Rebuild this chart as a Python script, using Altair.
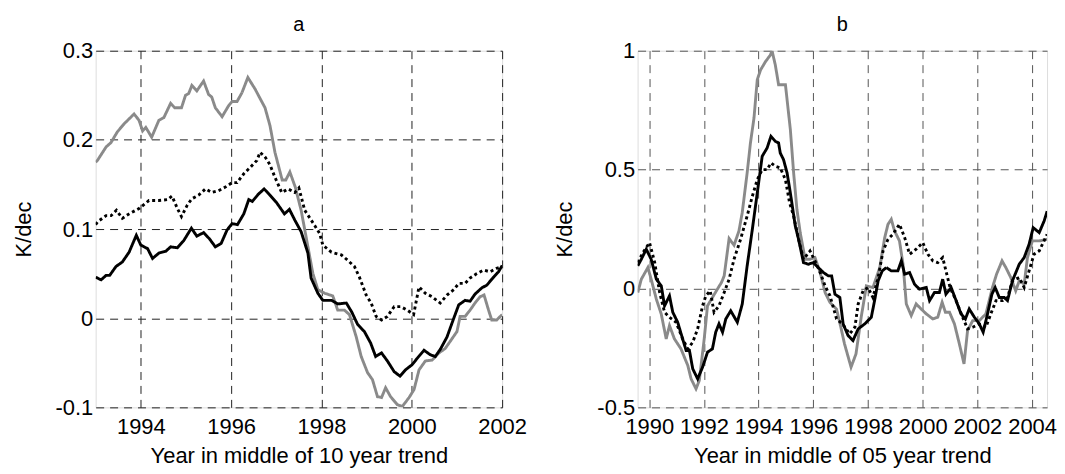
import altair as alt
import pandas as pd

# ---------- panel a (10-year trends) ----------
a_gray_x = [1993.0, 1993.04, 1993.23, 1993.34, 1993.48, 1993.63, 1993.85, 1993.96, 1994.04, 1994.11, 1994.24,
            1994.40, 1994.51, 1994.66, 1994.75, 1994.90, 1994.99, 1995.06, 1995.13, 1995.24, 1995.39, 1995.50,
            1995.57, 1995.65, 1995.80, 1995.94, 1996.02, 1996.13, 1996.24, 1996.37, 1996.53, 1996.75, 1996.86,
            1996.97, 1997.13, 1997.21, 1997.30, 1997.42, 1997.55, 1997.66, 1997.81, 1997.92, 1998.07, 1998.25,
            1998.36, 1998.51, 1998.62, 1998.77, 1998.88, 1999.02, 1999.13, 1999.24, 1999.33, 1999.42, 1999.53,
            1999.68, 1999.79, 1999.94, 2000.05, 2000.16, 2000.30, 2000.45, 2000.60, 2000.74, 2000.85, 2001.00,
            2001.07, 2001.18, 2001.29, 2001.40, 2001.51, 2001.60, 2001.70, 2001.77, 2001.88, 2002.0]
a_gray_y = [0.175, 0.177, 0.192, 0.197, 0.209, 0.218, 0.229, 0.222, 0.210, 0.214, 0.203,
            0.222, 0.225, 0.241, 0.236, 0.236, 0.250, 0.252, 0.261, 0.255, 0.266, 0.251,
            0.248, 0.236, 0.226, 0.238, 0.243, 0.243, 0.253, 0.270, 0.257, 0.236, 0.216,
            0.186, 0.155, 0.155, 0.164, 0.147, 0.121, 0.091, 0.050, 0.032, 0.028, 0.025,
            0.009, 0.009, 0.004, -0.021, -0.043, -0.061, -0.069, -0.088, -0.089, -0.078, -0.088,
            -0.097, -0.099, -0.089, -0.080, -0.058, -0.048, -0.047, -0.039, -0.034, -0.026, -0.015,
            0.002, 0.002, 0.009, 0.017, 0.024, 0.026, 0.009, -0.002, -0.002, 0.004]

a_black_x = [1993.0, 1993.04, 1993.12, 1993.23, 1993.31, 1993.45, 1993.59, 1993.74, 1993.90, 1994.0, 1994.15,
             1994.26, 1994.40, 1994.55, 1994.66, 1994.81, 1994.95, 1995.12, 1995.24, 1995.39, 1995.52, 1995.65,
             1995.78, 1995.91, 1996.02, 1996.14, 1996.28, 1996.39, 1996.47, 1996.60, 1996.73, 1996.86, 1997.0,
             1997.18, 1997.29, 1997.41, 1997.55, 1997.70, 1997.77, 1997.92, 1998.03, 1998.22, 1998.36, 1998.55,
             1998.67, 1998.80, 1998.95, 1999.09, 1999.20, 1999.33, 1999.46, 1999.61, 1999.74, 1999.86, 2000.01,
             2000.12, 2000.27, 2000.41, 2000.52, 2000.63, 2000.78, 2000.93, 2001.04, 2001.18, 2001.29, 2001.40,
             2001.55, 2001.66, 2001.81, 2001.92, 2002.0]
a_black_y = [0.046, 0.045, 0.043, 0.048, 0.048, 0.058, 0.063, 0.074, 0.093, 0.082, 0.078,
             0.067, 0.073, 0.075, 0.080, 0.079, 0.087, 0.101, 0.092, 0.096, 0.089, 0.080,
             0.084, 0.099, 0.106, 0.105, 0.117, 0.133, 0.131, 0.139, 0.145, 0.138, 0.130,
             0.117, 0.122, 0.110, 0.097, 0.073, 0.045, 0.028, 0.020, 0.020, 0.016, 0.017,
             0.007, -0.007, -0.015, -0.028, -0.043, -0.039, -0.048, -0.060, -0.065, -0.058, -0.052,
             -0.045, -0.036, -0.041, -0.043, -0.035, -0.021, 0.000, 0.015, 0.020, 0.019, 0.027,
             0.034, 0.037, 0.046, 0.052, 0.059]

a_dot_x = [1993.0, 1993.04, 1993.23, 1993.34, 1993.46, 1993.59, 1993.74, 1993.96, 1994.18, 1994.40, 1994.59,
           1994.69, 1994.81, 1994.90, 1995.03, 1995.13, 1995.28, 1995.43, 1995.57, 1995.72, 1995.87, 1996.02,
           1996.13, 1996.28, 1996.42, 1996.57, 1996.64, 1996.75, 1996.86, 1996.97, 1997.12, 1997.26, 1997.41,
           1997.50, 1997.63, 1997.85, 1997.96, 1998.03, 1998.22, 1998.44, 1998.58, 1998.73, 1998.84, 1998.99,
           1999.10, 1999.21, 1999.33, 1999.46, 1999.61, 1999.75, 1999.90, 2000.04, 2000.16, 2000.30, 2000.45,
           2000.63, 2000.78, 2000.93, 2001.04, 2001.18, 2001.29, 2001.44, 2001.59, 2001.73, 2001.88, 2002.0]
a_dot_y = [0.105, 0.108, 0.115, 0.115, 0.121, 0.112, 0.117, 0.123, 0.132, 0.132, 0.133,
           0.137, 0.123, 0.114, 0.127, 0.134, 0.138, 0.145, 0.141, 0.143, 0.147, 0.152,
           0.152, 0.162, 0.169, 0.177, 0.186, 0.181, 0.172, 0.158, 0.141, 0.145, 0.141,
           0.146, 0.121, 0.104, 0.095, 0.082, 0.074, 0.071, 0.065, 0.058, 0.046, 0.026,
           0.017, 0.002, -0.002, 0.002, 0.013, 0.013, 0.009, 0.004, 0.035, 0.028, 0.024,
           0.017, 0.026, 0.032, 0.039, 0.039, 0.045, 0.050, 0.054, 0.052, 0.056, 0.058]

# ---------- panel b (5-year trends) ----------
b_gray_x = [1989.58, 1989.71, 1989.95, 1990.07, 1990.26, 1990.44, 1990.62, 1990.74, 1990.92, 1991.16, 1991.41,
            1991.53, 1991.71, 1991.83, 1992.01, 1992.13, 1992.31, 1992.49, 1992.64, 1992.74, 1992.92, 1993.10,
            1993.28, 1993.40, 1993.58, 1993.70, 1993.83, 1993.95, 1994.07, 1994.25, 1994.43, 1994.49, 1994.61,
            1994.73, 1994.98, 1995.16, 1995.28, 1995.40, 1995.52, 1995.70, 1995.88, 1996.06, 1996.25, 1996.43,
            1996.61, 1996.85, 1997.00, 1997.14, 1997.38, 1997.56, 1997.75, 1997.94, 1998.18, 1998.43, 1998.61,
            1998.73, 1998.85, 1998.97, 1999.15, 1999.28, 1999.40, 1999.58, 1999.76, 1999.94, 2000.13, 2000.37,
            2000.55, 2000.71, 2000.83, 2000.98, 2001.16, 2001.34, 2001.51, 2001.64, 2001.83, 2002.07, 2002.31,
            2002.55, 2002.70, 2002.90, 2003.04, 2003.22, 2003.40, 2003.53, 2003.71, 2003.83, 2004.01, 2004.26,
            2004.55]
b_gray_y = [-0.017, 0.039, 0.088, 0.039, -0.045, -0.108, -0.212, -0.156, -0.212, -0.254, -0.324,
            -0.380, -0.422, -0.387, -0.212, -0.073, -0.038, -0.003, 0.025, 0.053, 0.210, 0.182,
            0.242, 0.319, 0.486, 0.612, 0.717, 0.878, 0.919, 0.954, 0.982, 1.0, 0.940,
            0.857, 0.857, 0.668, 0.486, 0.333, 0.235, 0.123, 0.123, 0.130, 0.067, -0.017,
            -0.059, -0.087, -0.160, -0.233, -0.331, -0.275, -0.121, 0.011, 0.004, 0.088, 0.214,
            0.270, 0.291, 0.242, 0.200, 0.102, -0.065, -0.114, -0.065, -0.086, -0.107, -0.128,
            -0.121, -0.058, -0.100, -0.100, -0.149, -0.233, -0.317, -0.177, -0.135, -0.135, -0.107,
            0.004, 0.060, 0.116, 0.088, 0.046, -0.010, 0.032, 0.018, 0.130, 0.200, 0.200,
            0.207]

b_black_x = [1989.58, 1989.71, 1989.89, 1990.07, 1990.26, 1990.44, 1990.56, 1990.74, 1990.86, 1991.04, 1991.22,
             1991.35, 1991.47, 1991.59, 1991.77, 1991.95, 1992.13, 1992.31, 1992.43, 1992.55, 1992.68, 1992.80,
             1992.98, 1993.22, 1993.40, 1993.58, 1993.77, 1993.95, 1994.13, 1994.31, 1994.45, 1994.61, 1994.73,
             1994.79, 1994.91, 1995.04, 1995.16, 1995.34, 1995.46, 1995.64, 1995.82, 1996.00, 1996.18, 1996.37,
             1996.55, 1996.67, 1996.79, 1996.97, 1997.09, 1997.27, 1997.45, 1997.64, 1997.88, 1998.12, 1998.24,
             1998.37, 1998.52, 1998.67, 1998.85, 1999.09, 1999.22, 1999.34, 1999.52, 1999.70, 1999.88, 2000.13,
             2000.25, 2000.43, 2000.61, 2000.73, 2000.85, 2001.04, 2001.22, 2001.40, 2001.56, 2001.70, 2001.89,
             2002.07, 2002.21, 2002.37, 2002.53, 2002.65, 2002.80, 2002.98, 2003.10, 2003.28, 2003.53, 2003.71,
             2003.89, 2004.04, 2004.26, 2004.44, 2004.55]
b_black_y = [0.095, 0.123, 0.165, 0.123, 0.039, 0.011, -0.073, -0.031, -0.100, -0.142, -0.212,
             -0.261, -0.261, -0.338, -0.380, -0.331, -0.268, -0.254, -0.184, -0.149, -0.184, -0.128,
             -0.094, -0.142, -0.066, 0.095, 0.249, 0.402, 0.556, 0.591, 0.640, 0.619, 0.612,
             0.570, 0.542, 0.486, 0.402, 0.263, 0.207, 0.109, 0.102, 0.109, 0.088, 0.067,
             0.053, 0.053, -0.024, -0.038, -0.149, -0.198, -0.219, -0.170, -0.149, -0.121, -0.051,
             0.032, 0.074, 0.088, 0.074, 0.074, 0.116, 0.060, 0.067, 0.018, -0.003, 0.004,
             -0.051, -0.017, -0.017, 0.039, -0.024, 0.004, -0.051, -0.107, -0.128, -0.086, -0.121,
             -0.149, -0.184, -0.107, -0.024, 0.004, -0.038, -0.038, -0.051, 0.032, 0.102, 0.130,
             0.186, 0.256, 0.235, 0.284, 0.325]

b_dot_x = [1989.58, 1989.77, 1990.01, 1990.20, 1990.38, 1990.56, 1990.74, 1990.98, 1991.22, 1991.41, 1991.59,
           1991.77, 1991.95, 1992.07, 1992.23, 1992.37, 1992.55, 1992.74, 1992.92, 1993.10, 1993.34, 1993.58,
           1993.77, 1993.95, 1994.13, 1994.31, 1994.45, 1994.61, 1994.79, 1994.98, 1995.13, 1995.28, 1995.46,
           1995.64, 1995.88, 1996.06, 1996.25, 1996.43, 1996.61, 1996.85, 1997.07, 1997.33, 1997.52, 1997.64,
           1997.82, 1998.00, 1998.18, 1998.37, 1998.55, 1998.73, 1998.91, 1999.15, 1999.34, 1999.52, 1999.76,
           2000.00, 2000.19, 2000.37, 2000.55, 2000.73, 2000.85, 2001.00, 2001.22, 2001.46, 2001.64, 2001.83,
           2002.07, 2002.31, 2002.49, 2002.68, 2002.92, 2003.10, 2003.28, 2003.53, 2003.71, 2003.89, 2004.07,
           2004.26, 2004.55]
b_dot_y = [0.109, 0.151, 0.193, 0.109, -0.017, -0.100, -0.121, -0.142, -0.212, -0.254, -0.226,
           -0.170, -0.073, -0.031, -0.010, -0.100, -0.073, -0.017, 0.039, 0.123, 0.207, 0.305,
           0.388, 0.458, 0.500, 0.500, 0.528, 0.514, 0.507, 0.458, 0.361, 0.305, 0.207,
           0.123, 0.158, 0.116, 0.067, 0.011, -0.031, -0.128, -0.150, -0.191, -0.163, -0.065,
           -0.010, 0.004, -0.038, 0.046, 0.158, 0.207, 0.228, 0.270, 0.214, 0.144, 0.165,
           0.193, 0.144, 0.116, 0.109, 0.130, 0.074, 0.004, -0.051, -0.121, -0.170, -0.163,
           -0.149, -0.163, -0.107, -0.051, -0.051, -0.038, 0.032, 0.046, 0.004, 0.074, 0.144,
           0.158, 0.228]

a_xticks = [1994, 1996, 1998, 2000, 2002]
a_yticks = [-0.1, 0, 0.1, 0.2, 0.3]
b_xticks = [1990, 1992, 1994, 1996, 1998, 2000, 2002, 2004]
b_yticks = [-0.5, 0, 0.5, 1]

FONT = "Liberation Sans"
GRAY = "#8a8a8a"


def series_df(x, y):
    return pd.DataFrame({"year": x, "val": y})


def panel(title, series, xdom, ydom, xticks, yticks, xtitle, gridcolor, width):
    xs = alt.X("year:Q", scale=alt.Scale(domain=xdom, nice=False, zero=False),
               axis=alt.Axis(values=xticks, labelExpr="'' + datum.value", title=xtitle,
                             grid=True, gridColor=gridcolor, gridDash=[8, 6], gridWidth=1, gridOpacity=1,
                             domain=False, ticks=False, labelFontSize=22, labelFont=FONT,
                             labelColor="black", titleFontSize=22, titleFont=FONT, titleFontWeight="normal",
                             titleColor="black", labelPadding=9, titlePadding=8, labelFlush=False))
    ys = alt.Y("val:Q", scale=alt.Scale(domain=ydom, nice=False, zero=False),
               axis=alt.Axis(values=yticks, labelExpr="'' + datum.value", title="K/dec",
                             grid=True, gridColor=gridcolor, gridDash=[8, 6], gridWidth=1, gridOpacity=1,
                             domain=False, ticks=False, labelFontSize=22, labelFont=FONT,
                             labelColor="black", titleFontSize=22, titleFont=FONT, titleFontWeight="normal",
                             titleColor="black", labelPadding=3, titlePadding=20, labelFlush=False))
    layers = []
    for (x, y), color, dash in series:
        enc = dict(x=xs, y=ys, order=alt.Order("year:Q"))
        mk = alt.Chart(series_df(x, y)).mark_line(color=color, strokeWidth=2.9, clip=True,
                                                   strokeDash=dash if dash else [1, 0])
        layers.append(mk.encode(**enc))
    return alt.layer(*layers).properties(
        width=width, height=358,
        title=alt.TitleParams(title, fontSize=20, font=FONT, fontWeight="normal", color="black", offset=5))


pa = panel("a", [((a_gray_x, a_gray_y), GRAY, None),
                 ((a_dot_x, a_dot_y), "black", [3, 3]),
                 ((a_black_x, a_black_y), "black", None)],
           [1993, 2002], [-0.1, 0.3], a_xticks, a_yticks, "Year in middle of 10 year trend", "#222222", 408)
pb = panel("b", [((b_gray_x, b_gray_y), GRAY, None),
                 ((b_dot_x, b_dot_y), "black", [3, 3]),
                 ((b_black_x, b_black_y), "black", None)],
           [1989.574, 2004.546], [-0.5, 1], b_xticks, b_yticks, "Year in middle of 05 year trend", "#555555", 411)

chart = alt.hconcat(pa, pb, spacing=136, bounds="flush").configure_view(
    stroke="black", strokeWidth=1.5).configure(
    background="white", padding={"left": 3, "top": 5, "right": 0, "bottom": 0})

chart.save("out.html", embed_options={"renderer": "svg", "actions": False})
